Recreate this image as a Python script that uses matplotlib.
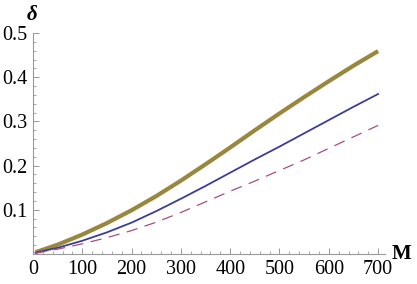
import numpy as np
import matplotlib
matplotlib.use("Agg")
import matplotlib.pyplot as plt
from matplotlib.ticker import MultipleLocator, FixedLocator

# valeurs
M = [5, 50, 100, 150, 200, 250, 300, 350, 400, 450, 500, 550, 600, 650, 700]
delta_gold = [0.004, 0.021, 0.044, 0.070, 0.099, 0.131, 0.166, 0.203, 0.241,
              0.280, 0.318, 0.355, 0.391, 0.426, 0.459]
delta_blue = [0.003, 0.014, 0.030, 0.049, 0.071, 0.097, 0.125, 0.154, 0.184,
              0.214, 0.243, 0.273, 0.303, 0.333, 0.362]
delta_dash = [0.002, 0.011, 0.023, 0.037, 0.053, 0.072, 0.094, 0.118, 0.142,
              0.165, 0.189, 0.213, 0.239, 0.265, 0.291]

x_ticks = [0, 100, 200, 300, 400, 500, 600, 700]
y_ticks = [0.1, 0.2, 0.3, 0.4, 0.5]

plt.rcParams["font.family"] = ["Liberation Serif", "DejaVu Serif"]

fig = plt.figure(figsize=(4.17, 2.84), dpi=100)
ax = fig.add_axes([33 / 417, 30 / 284, 352 / 417, 221 / 284])

ax.plot(M, delta_gold, color=(0.6, 0.53, 0.24), lw=3.0, solid_capstyle="butt")
ax.plot(M, delta_blue, color=(0.24, 0.24, 0.6), lw=1.3)
ax.plot(M, delta_dash, color=(0.65, 0.3, 0.5), lw=0.9, dashes=(9, 6))

ax.set_xlim(0, 714)
ax.set_ylim(0, 0.5)

for s in ["top", "right"]:
    ax.spines[s].set_visible(False)
for s in ["left", "bottom"]:
    ax.spines[s].set_color("#999999")
    ax.spines[s].set_linewidth(0.8)

ax.xaxis.set_major_locator(FixedLocator(x_ticks))
ax.xaxis.set_minor_locator(MultipleLocator(20))
ax.yaxis.set_major_locator(FixedLocator(y_ticks))
ax.yaxis.set_minor_locator(MultipleLocator(0.02))
ax.set_xticklabels([str(v) for v in x_ticks])
ax.set_yticklabels([f"{v:.1f}" for v in y_ticks])

ax.tick_params(which="both", direction="in", color="#999999", labelsize=14.5)
ax.tick_params(which="major", length=4, width=0.7, pad=4)
ax.tick_params(which="minor", length=2, width=0.6)

fig.text(32 / 417, 1 - 15 / 284, "δ", fontsize=15, fontweight="bold",
         fontstyle="italic", ha="center", va="center")
fig.text(401 / 417, 1 - 254 / 284, "M", fontsize=15, fontweight="bold",
         ha="center", va="center")

fig.savefig("out.png", dpi=100)
